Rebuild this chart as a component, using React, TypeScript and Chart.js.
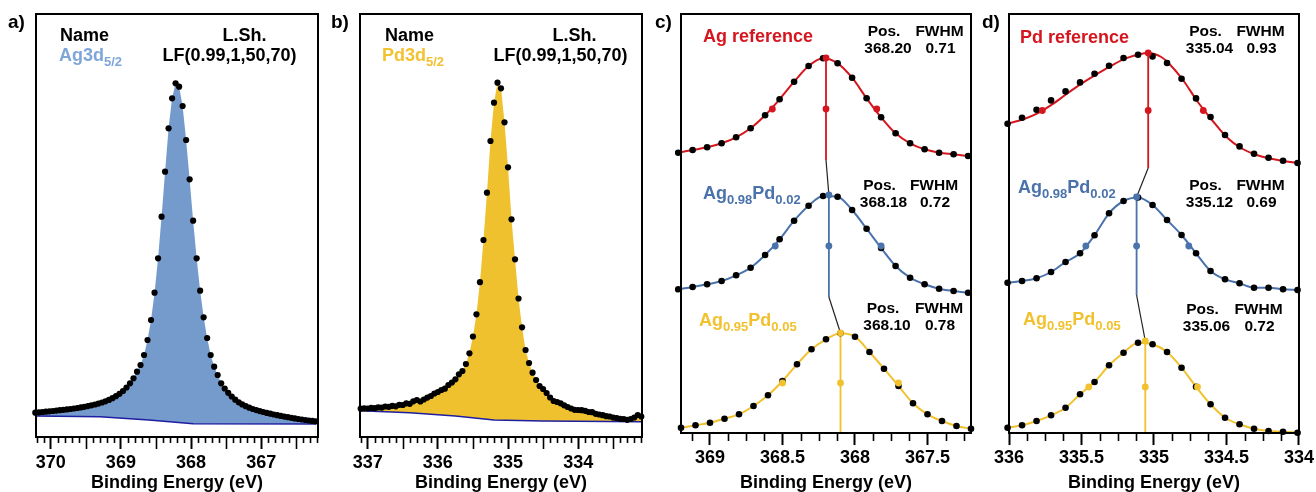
import React, { useEffect, useRef } from 'react';
import { Chart, registerables } from 'chart.js';

Chart.register(...registerables);

const FONT = "'Liberation Sans', Arial, Helvetica, sans-serif";
Chart.defaults.font.family = FONT;

const RED = '#d5161f';
const BLUE = '#4a72ab';
const YELLOW = '#f1c12e';
const FILL_A = '#759bcc';
const FILL_B = '#f0c12f';
const TXT_A = '#7fa6d8';
const TXT_B = '#f2c230';
const BG_LINE = '#1e1ea0';

// ---------- panel a : Ag3d5/2 (binding energy eV, counts) ----------
const aTicks = [370, 369, 368, 367];
const aEnergy = [370.22,370.17,370.12,370.07,370.02,369.97,369.92,369.87,369.82,369.77,369.72,369.67,369.62,369.57,369.52,369.47,369.42,369.37,369.32,369.27,369.22,369.17,369.12,369.07,369.02,368.97,368.92,368.87,368.82,368.77,368.72,368.67,368.62,368.57,368.52,368.47,368.42,368.37,368.32,368.27,368.22,368.17,368.12,368.07,368.02,367.97,367.92,367.87,367.82,367.77,367.72,367.67,367.62,367.57,367.52,367.47,367.42,367.37,367.32,367.27,367.22,367.17,367.12,367.07,367.02,366.97,366.92,366.87,366.82,366.77,366.72,366.67,366.62,366.57,366.52,366.47,366.42,366.37,366.32,366.27,366.22];
const aCounts = [2430,2470,2500,2530,2570,2600,2640,2680,2720,2760,2800,2850,2900,2960,3020,3090,3170,3250,3340,3450,3570,3710,3880,4080,4320,4600,4950,5370,5870,6530,7200,8200,9700,11700,14430,17870,22030,26530,30870,33870,35370,35030,33100,29700,25770,21630,17870,14630,11970,9900,8200,7030,6200,5370,4850,4420,4050,3730,3470,3260,3080,2930,2800,2690,2590,2500,2410,2330,2250,2180,2110,2040,1980,1920,1860,1800,1750,1700,1650,1610,1570];
const aBgEnergy = [370.22, 369.3, 368.6, 367.97, 366.22];
const aBgCounts = [2100, 2030, 1700, 1320, 1300];

// ---------- panel b : Pd3d5/2 ----------
const bTicks = [337, 336, 335, 334];
const bEnergy = [337.1,337.05,337,336.95,336.9,336.85,336.8,336.75,336.7,336.65,336.6,336.55,336.5,336.45,336.4,336.35,336.3,336.25,336.2,336.15,336.1,336.05,336,335.95,335.9,335.85,335.8,335.75,335.7,335.65,335.6,335.55,335.5,335.45,335.4,335.35,335.3,335.25,335.2,335.15,335.1,335.05,335,334.95,334.9,334.85,334.8,334.75,334.7,334.65,334.6,334.55,334.5,334.45,334.4,334.35,334.3,334.25,334.2,334.15,334.1,334.05,334,333.95,333.9,333.85,333.8,333.75,333.7,333.65,333.6,333.55,333.5,333.45,333.4,333.35,333.3,333.25,333.2,333.15,333.1];
const bCounts = [2830,2870,2850,2910,2880,2970,2940,3050,3020,3110,3070,3220,3200,3370,3320,3570,3700,3550,3750,3940,4100,4350,4500,4700,4830,5200,5450,5770,6270,6600,7300,8370,10050,12270,15480,19700,24430,29600,33430,35430,34870,31470,26970,21770,17770,13850,10970,8700,7400,6430,5700,5100,4800,4400,3950,3600,3500,3370,3170,3000,2850,2720,2700,2680,2620,2500,2480,2320,2250,2180,2080,2050,1940,1900,1820,1800,1720,1800,1950,2200,2050];
const bBgEnergy = [337.1, 336.4, 335.75, 335.2, 334.5, 333.1];
const bBgCounts = [2630, 2430, 2100, 1700, 1600, 1530];

// ---------- panel c : Ag3d, stacked normalised spectra ----------
const cTicks = [369, 368.5, 368, 367.5];
const cEnergyRB = [369.22,369.12,369.02,368.92,368.82,368.72,368.62,368.52,368.42,368.32,368.22,368.12,368.02,367.92,367.82,367.72,367.62,367.52,367.42,367.32,367.22];
const cEnergyY = [369.2,369.1,369.0,368.9,368.8,368.7,368.6,368.5,368.4,368.3,368.2,368.1,368.0,367.9,367.8,367.7,367.6,367.5,367.4,367.3,367.2];
const cRed = [0.073,0.10,0.127,0.167,0.227,0.317,0.447,0.607,0.783,0.94,1.017,0.967,0.823,0.617,0.427,0.267,0.167,0.107,0.073,0.057,0.04];
const cBlue = [0.077,0.10,0.127,0.16,0.217,0.293,0.42,0.577,0.763,0.913,1.01,1.003,0.87,0.683,0.49,0.31,0.193,0.127,0.083,0.06,0.043];
const cYellow = [0.053,0.077,0.103,0.143,0.187,0.27,0.377,0.52,0.687,0.837,0.937,0.997,0.963,0.81,0.643,0.47,0.297,0.187,0.12,0.07,0.043];
const cOffsets = [2.73, 1.36, 0];
const cPos = [368.20, 368.18, 368.10];
const cFwhm = [0.71, 0.72, 0.78];
const cPeak = [1.02, 1.02, 1.0];
const cHalfL = [368.57, 368.55, 368.50];
const cHalfR = [367.85, 367.82, 367.70];

// ---------- panel d : Pd3d, stacked normalised spectra ----------
const dTicks = [336, 335.5, 335, 334.5, 334];
const dEnergy = [336.01,335.91,335.81,335.71,335.61,335.51,335.41,335.31,335.21,335.11,335.01,334.91,334.81,334.71,334.61,334.51,334.41,334.31,334.21,334.11,334.01];
const dRed = [0.443,0.503,0.583,0.676,0.766,0.856,0.943,1.023,1.10,1.133,1.116,1.05,0.893,0.696,0.51,0.33,0.216,0.143,0.103,0.073,0.05];
const dRedFitE = [336.0,335.9,335.8,335.7,335.6,335.5,335.4,335.3,335.2,335.1,335.04,334.95,334.9,334.8,334.7,334.6,334.5,334.4,334.3,334.2,334.1,334.0];
const dRedFitN = [0.448,0.488,0.548,0.638,0.743,0.843,0.933,1.018,1.093,1.138,1.15,1.11,1.05,0.88,0.665,0.48,0.31,0.2,0.135,0.095,0.068,0.05];
const dBlue = [0.123,0.14,0.167,0.23,0.33,0.417,0.597,0.817,0.94,0.975,0.90,0.75,0.60,0.417,0.24,0.157,0.117,0.073,0.073,0.057,0.05];
const dYellow = [0.053,0.077,0.12,0.177,0.253,0.387,0.51,0.677,0.803,0.903,0.887,0.81,0.653,0.463,0.287,0.153,0.087,0.043,0.02,0.013,0.003];
const dOffsets = [2.65, 1.38, 0];
const dPos = [335.04, 335.12, 335.06];
const dFwhm = [0.93, 0.69, 0.72];
const dPeak = [1.15, 0.98, 0.92];
const dHalfL = [335.77, 335.47, 335.45];
const dHalfR = [334.66, 334.76, 334.70];

type Pt = { x: number; y: number };
const pts = (xs: number[], ys: number[], off = 0): Pt[] => xs.map((x, i) => ({ x, y: ys[i] + off }));

function ticksPlugin(minor: number, minorLen: number, major: number, half: number | null, halfLen: number) {
  return {
    id: 'frameTicks',
    afterDraw(chart: any) {
      const { ctx, chartArea: a } = chart;
      const x = chart.scales.x;
      const lo = Math.min(x.min, x.max);
      const hi = Math.max(x.min, x.max);
      ctx.save();
      ctx.strokeStyle = '#000';
      ctx.lineWidth = 1.6;
      for (let k = Math.ceil(lo / minor - 1e-6); k * minor <= hi + 1e-6; k++) {
        const v = k * minor;
        const r = v / major;
        if (Math.abs(r - Math.round(r)) < 1e-6) continue;
        let len = minorLen;
        if (half !== null) {
          const h = v / half;
          if (Math.abs(h - Math.round(h)) < 1e-6) len = halfLen;
        }
        const px = Math.round(x.getPixelForValue(v)) + 0.5;
        ctx.beginPath();
        ctx.moveTo(px, a.bottom);
        ctx.lineTo(px, a.bottom + len);
        ctx.stroke();
      }
      ctx.lineWidth = 2;
      ctx.strokeRect(a.left, a.top, a.right - a.left, a.bottom - a.top);
      ctx.restore();
    },
  };
}

function baseOptions(o: { xMin: number; xMax: number; yMax: number; pad: any; ticks: number[]; axisH: number; labelPad: number }) {
  return {
    responsive: false,
    animation: false,
    devicePixelRatio: 1,
    events: [],
    layout: { padding: o.pad },
    plugins: { legend: { display: false }, tooltip: { enabled: false } },
    scales: {
      x: {
        type: 'linear',
        reverse: true,
        min: o.xMin,
        max: o.xMax,
        afterBuildTicks: (s: any) => { s.ticks = o.ticks.map((v) => ({ value: v })); },
        afterFit: (s: any) => { s.height = o.axisH; },
        grid: { display: true, drawOnChartArea: false, drawTicks: true, tickLength: 12, tickWidth: 2, tickColor: '#000' },
        border: { display: false },
        ticks: {
          autoSkip: false, maxRotation: 0, minRotation: 0,
          padding: o.labelPad, color: '#000', font: { family: FONT, size: 18, weight: 'bold' },
          callback: (v: any) => String(v),
        },
        title: {
          display: true, text: 'Binding Energy (eV)', color: '#000', padding: 0,
          font: { family: FONT, size: 18, weight: 'bold', lineHeight: 1 },
        },
      },
      y: { display: false, min: 0, max: o.yMax },
    },
  };
}

function surveyChart(energy: number[], counts: number[], bgE: number[], bgC: number[], fillColor: string,
  ticks: number[], xMin: number, xMax: number, pad: any) {
  return {
    type: 'line',
    data: {
      datasets: [
        { data: pts(energy, counts), showLine: false, pointRadius: 3.1, pointBackgroundColor: '#000', pointBorderWidth: 0, order: 0, clip: 6 },
        { data: pts(bgE, bgC), borderColor: BG_LINE, borderWidth: 1.6, pointRadius: 0, fill: 'origin', backgroundColor: '#ffffff', order: 1, tension: 0 },
        { data: pts(energy, counts), borderWidth: 0, borderColor: 'transparent', pointRadius: 0, fill: 'origin', backgroundColor: fillColor, order: 2, tension: 0 },
      ],
    },
    options: baseOptions({ xMin, xMax, yMax: 42300, pad, ticks, axisH: 55, labelPad: 3 }),
    plugins: [ticksPlugin(0.1, 6, 1, 0.5, 12)],
  };
}

type Series = {
  energy: number[]; n: number[]; color: string; offset: number; pos: number; peak: number;
  hl: number; hr: number; fitE?: number[]; fitN?: number[];
};

function stackChart(series: Series[], ticks: number[], xMin: number, xMax: number, pad: any) {
  const datasets: any[] = [];
  series.forEach((s) => {
    datasets.push({
      data: pts(s.fitE || s.energy, s.fitN || s.n, s.offset), borderColor: s.color, borderWidth: 2,
      pointRadius: 0, cubicInterpolationMode: 'monotone', fill: false, order: 6,
    });
    datasets.push({
      data: [{ x: s.pos, y: s.offset + s.peak }, { x: s.pos, y: s.offset }], borderColor: s.color,
      borderWidth: 1.8, pointRadius: 0, fill: false, order: 5,
    });
    datasets.push({
      data: pts(s.energy, s.n, s.offset), showLine: false, pointRadius: 3.3, pointBackgroundColor: '#000',
      pointBorderWidth: 0, order: 2, clip: 6,
    });
    datasets.push({
      data: [
        { x: s.pos, y: s.offset + s.peak },
        { x: s.pos, y: s.offset + s.peak / 2 },
        { x: s.hl, y: s.offset + s.peak / 2 },
        { x: s.hr, y: s.offset + s.peak / 2 },
      ],
      showLine: false, pointRadius: 3.4, pointBackgroundColor: s.color, pointBorderWidth: 0, order: 1,
    });
  });
  for (let i = 0; i < series.length - 1; i++) {
    const a = series[i];
    const b = series[i + 1];
    datasets.push({
      data: [{ x: a.pos, y: a.offset }, { x: b.pos, y: b.offset + b.peak }], borderColor: '#222',
      borderWidth: 1.2, pointRadius: 0, fill: false, order: 4,
    });
  }
  return {
    type: 'line',
    data: { datasets },
    options: baseOptions({ xMin, xMax, yMax: 4.19, pad, ticks, axisH: 59, labelPad: 2 }),
    plugins: [ticksPlugin(0.125, 8, 0.5, null, 8)],
  };
}

function ChartCanvas({ left, width, make }: { left: number; width: number; make: () => any }) {
  const ref = useRef<HTMLCanvasElement>(null);
  useEffect(() => {
    const chart = new Chart(ref.current as HTMLCanvasElement, make());
    return () => chart.destroy();
  }, []);
  return (
    <canvas ref={ref} width={width} height={492}
      style={{ position: 'absolute', left, top: 0, width, height: 492 }} />
  );
}

function Txt({ x, base, size = 18, color = '#000', align = 'left', children }:
  { x: number; base: number; size?: number; color?: string; align?: string; children: any }) {
  const style: any = {
    position: 'absolute', left: x, top: base - 0.8465 * size, fontFamily: FONT, fontWeight: 'bold',
    fontSize: size, lineHeight: 1, color, whiteSpace: 'nowrap',
  };
  if (align === 'center') style.transform = 'translateX(-50%)';
  return <div style={style}>{children}</div>;
}

const Sub = ({ children }: { children: any }) => (
  <span style={{ fontSize: 13, position: 'relative', top: 5 }}>{children}</span>
);

function PosBlock({ px, fx, base, pos, fwhm }: { px: number; fx: number; base: number; pos: number; fwhm: number }) {
  return (
    <>
      <Txt x={px - 4} base={base} size={15.5} align="center">Pos.</Txt>
      <Txt x={fx - 1} base={base} size={15.5} align="center">FWHM</Txt>
      <Txt x={px} base={base + 17} size={15.5} align="center">{pos.toFixed(2)}</Txt>
      <Txt x={fx} base={base + 17} size={15.5} align="center">{fwhm.toFixed(2)}</Txt>
    </>
  );
}

export default function App() {
  const cSeries: Series[] = [
    { energy: cEnergyRB, n: cRed, color: RED, offset: cOffsets[0], pos: cPos[0], peak: cPeak[0], hl: cHalfL[0], hr: cHalfR[0] },
    { energy: cEnergyRB, n: cBlue, color: BLUE, offset: cOffsets[1], pos: cPos[1], peak: cPeak[1], hl: cHalfL[1], hr: cHalfR[1] },
    { energy: cEnergyY, n: cYellow, color: YELLOW, offset: cOffsets[2], pos: cPos[2], peak: cPeak[2], hl: cHalfL[2], hr: cHalfR[2] },
  ];
  const dSeries: Series[] = [
    { energy: dEnergy, n: dRed, color: RED, offset: dOffsets[0], pos: dPos[0], peak: dPeak[0], hl: dHalfL[0], hr: dHalfR[0], fitE: dRedFitE, fitN: dRedFitN },
    { energy: dEnergy, n: dBlue, color: BLUE, offset: dOffsets[1], pos: dPos[1], peak: dPeak[1], hl: dHalfL[1], hr: dHalfR[1] },
    { energy: dEnergy, n: dYellow, color: YELLOW, offset: dOffsets[2], pos: dPos[2], peak: dPeak[2], hl: dHalfL[2], hr: dHalfR[2] },
  ];

  return (
    <div style={{ position: 'absolute', left: 0, top: 0, width: 1316, height: 492, background: '#fff', overflow: 'hidden' }}>
      <ChartCanvas left={0} width={330}
        make={() => surveyChart(aEnergy, aCounts, aBgEnergy, aBgCounts, FILL_A, aTicks, 366.19, 370.21, { left: 36, top: 14, right: 12, bottom: 0 })} />
      <ChartCanvas left={330} width={330}
        make={() => surveyChart(bEnergy, bCounts, bBgEnergy, bBgCounts, FILL_B, bTicks, 333.09, 337.11, { left: 30, top: 14, right: 18, bottom: 0 })} />
      <ChartCanvas left={660} width={330}
        make={() => stackChart(cSeries, cTicks, 367.2, 369.2, { left: 21, top: 14, right: 19, bottom: 0 })} />
      <ChartCanvas left={990} width={326}
        make={() => stackChart(dSeries, dTicks, 334.0, 336.0, { left: 19, top: 14, right: 17, bottom: 0 })} />

      <Txt x={8} base={28} size={19}>a)</Txt>
      <Txt x={331} base={28} size={19}>b)</Txt>
      <Txt x={655} base={28} size={19}>c)</Txt>
      <Txt x={982} base={28} size={19}>d)</Txt>

      {/* panel a */}
      <Txt x={60} base={41}>Name</Txt>
      <Txt x={59} base={61} color={TXT_A}>Ag3d<Sub>5/2</Sub></Txt>
      <Txt x={244.5} base={41} align="center">L.Sh.</Txt>
      <Txt x={229.5} base={61} align="center">LF(0.99,1,50,70)</Txt>

      {/* panel b */}
      <Txt x={385} base={41}>Name</Txt>
      <Txt x={382} base={61} color={TXT_B}>Pd3d<Sub>5/2</Sub></Txt>
      <Txt x={574.5} base={41} align="center">L.Sh.</Txt>
      <Txt x={560.5} base={61} align="center">LF(0.99,1,50,70)</Txt>

      {/* panel c */}
      <Txt x={703} base={42} color={RED}>Ag reference</Txt>
      <PosBlock px={888} fx={940.5} base={36.5} pos={cPos[0]} fwhm={cFwhm[0]} />
      <Txt x={703} base={199} color={BLUE}>Ag<Sub>0.98</Sub>Pd<Sub>0.02</Sub></Txt>
      <PosBlock px={883.5} fx={935} base={190} pos={cPos[1]} fwhm={cFwhm[1]} />
      <Txt x={699} base={326} color={YELLOW}>Ag<Sub>0.95</Sub>Pd<Sub>0.05</Sub></Txt>
      <PosBlock px={887} fx={940} base={313} pos={cPos[2]} fwhm={cFwhm[2]} />

      {/* panel d */}
      <Txt x={1020} base={43} color={RED}>Pd reference</Txt>
      <PosBlock px={1209.5} fx={1261.5} base={36.5} pos={dPos[0]} fwhm={dFwhm[0]} />
      <Txt x={1018} base={193} color={BLUE}>Ag<Sub>0.98</Sub>Pd<Sub>0.02</Sub></Txt>
      <PosBlock px={1209.5} fx={1261.5} base={190} pos={dPos[1]} fwhm={dFwhm[1]} />
      <Txt x={1023} base={325.5} color={YELLOW}>Ag<Sub>0.95</Sub>Pd<Sub>0.05</Sub></Txt>
      <PosBlock px={1206.5} fx={1259.5} base={314.5} pos={dPos[2]} fwhm={dFwhm[2]} />
    </div>
  );
}
